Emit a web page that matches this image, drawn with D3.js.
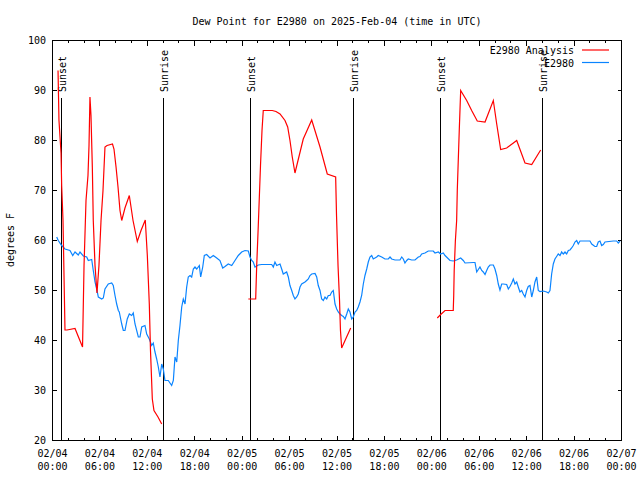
<!DOCTYPE html>
<html>
<head>
<meta charset="utf-8">
<script src="https://cdn.jsdelivr.net/npm/d3@7"></script>
<style>
  html, body { margin: 0; padding: 0; background: #fff; }
  svg { display: block; }
  text { font-family: "DejaVu Sans Mono", monospace; font-size: 10px; fill: #000; }
</style>
</head>
<body>
<svg id="chart" width="640" height="480"></svg>
<script>
// ---------- DATA (time = hours since 02/04 00:00 UTC) ----------
const title = "Dew Point for E2980 on 2025-Feb-04 (time in UTC)";
const yLabel = "degrees F";
const seriesNames = ["E2980 Analysis", "E2980"];
const seriesColors = ["#ff0000", "#0a84ff"];
const yTicks = [20, 30, 40, 50, 60, 70, 80, 90, 100];
const xTickHours = [0, 6, 12, 18, 24, 30, 36, 42, 48, 54, 60, 66, 72];
const xTickLabels = [
  ["02/04", "00:00"], ["02/04", "06:00"], ["02/04", "12:00"], ["02/04", "18:00"],
  ["02/05", "00:00"], ["02/05", "06:00"], ["02/05", "12:00"], ["02/05", "18:00"],
  ["02/06", "00:00"], ["02/06", "06:00"], ["02/06", "12:00"], ["02/06", "18:00"],
  ["02/07", "00:00"]
];
const sunEvents = [
  [1.11, "Sunset"], [14.02, "Sunrise"],
  [25.08, "Sunset"], [38.06, "Sunrise"],
  [49.12, "Sunset"], [61.98, "Sunrise"]
];

// Analysis (red) – three separate segments
const analysisDay1 = [
  [0.70,94],[0.82,84],[1.08,77.5],[1.16,71],[1.33,64],[1.58,42.1],[1.83,42.1],[2.85,42.4],
  [3.80,38.7],[3.99,55],[4.24,68],[4.49,73],[4.62,79],[4.74,88.7],[4.87,85],[5.04,74.7],
  [5.16,64],[5.38,55],[5.63,49.5],[5.88,55],[6.14,64],[6.39,70],[6.64,78.7],[6.90,79],
  [7.59,79.3],[7.78,78.3],[8.04,74.7],[8.29,70.7],[8.54,66],[8.76,64],[9.17,66.5],[9.72,69],
  [10.19,64],[10.73,59.8],[11.20,62],[11.74,64.1],[12.00,57],[12.25,47.3],[12.40,38],
  [12.63,28.3],[12.84,26],[13.35,24.7],[13.82,23.3]
];
const analysisDay2 = [
  [24.78,48.3],[25.71,48.3],[25.84,55],[26.04,63],[26.32,75],[26.51,82],[26.67,86],[27.81,86],
  [28.28,85.8],[28.79,85.3],[29.42,84],[29.76,82.7],[30.05,80],[30.34,76.7],[30.68,73.5],
  [31.73,80.3],[32.80,84.1],[33.85,78.7],[34.77,73.3],[35.83,72.7],[35.94,65],[36.13,55],
  [36.32,48],[36.44,42],[36.59,38.5],[37.73,42.5]
];
const analysisDay3 = [
  [48.69,44.5],[49.12,45.2],[49.67,46],[50.71,46],[50.77,49],[50.83,54],[50.98,60],[51.14,64],
  [51.22,70],[51.47,82],[51.65,90],[52.41,88],[53.04,86],[53.75,83.9],[54.73,83.7],[55.78,88],
  [56.21,83.3],[56.71,78.2],[57.47,78.5],[58.74,80],[59.79,75.5],[60.64,75.2],[61.77,78.1]
];

// Observations (blue)
const observed = [
  [0.53,60.7],[0.73,60],[1.16,59],[1.58,58.3],[2.21,58],[2.56,57],[2.85,57.7],[3.26,57.1],
  [3.48,57.7],[3.90,56.9],[4.33,56.7],[4.53,56],[4.96,56.2],[5.16,54],[5.38,51.7],[5.59,50.3],
  [5.80,48.7],[6.23,48.3],[6.43,48.5],[6.64,50.3],[7.06,51.3],[7.49,51.5],[7.69,51],[7.91,49],
  [8.12,47.3],[8.33,46],[8.45,45.7],[8.54,45],[8.76,43.3],[8.96,42],[9.17,42],[9.46,44.3],
  [9.72,45.3],[10.02,45],[10.22,45.5],[10.44,43.3],[10.86,40.7],[11.07,40.7],[11.29,42.7],
  [11.70,43],[11.92,41.3],[12.25,40.3],[12.55,39],[12.75,39.5],[12.97,37.7],[13.18,36.3],
  [13.39,34.7],[13.60,32.7],[13.82,35.3],[14.02,34.3],[14.23,32],[14.65,32],[15.08,31],
  [15.29,32],[15.41,34.7],[15.50,36.7],[15.72,35.7],[15.92,40],[16.13,43],[16.35,46.7],
  [16.55,48.3],[16.77,47.3],[16.98,50.7],[17.18,52.7],[17.40,53],[17.61,52.7],[17.82,54.3],
  [18.03,54.7],[18.25,54.3],[18.58,55],[18.75,52.7],[19.01,54.7],[19.21,57],[19.51,57.2],
  [19.93,56.5],[20.35,57],[20.78,56.5],[21.19,56],[21.54,54.5],[21.83,54.8],[22.24,55.3],
  [22.68,55],[23.09,56],[23.51,57],[23.94,57.7],[24.36,58],[24.78,57.9],[24.99,56.7],
  [25.21,56],[25.41,55.7],[25.62,54.7],[26.04,55.1],[26.47,55.2],[27.74,55.2],[27.94,54.7],
  [28.15,55.7],[28.37,55],[28.79,55.3],[29.00,54.3],[29.20,53.3],[29.63,53.7],[29.84,52.7],
  [30.05,51],[30.27,50],[30.47,49],[30.68,48.3],[30.90,48.7],[31.10,49.3],[31.32,50.7],
  [31.53,51.3],[31.95,51.7],[32.16,52],[32.37,52.3],[32.58,53],[32.80,53.3],[33.22,53.4],
  [33.43,52.7],[33.63,51],[33.85,50],[34.06,48.3],[34.27,48],[34.48,48.7],[34.70,48.3],
  [34.90,49],[35.11,49],[35.33,49.7],[35.53,50],[35.75,47.3],[35.96,46.3],[36.16,45.7],
  [36.38,45.3],[36.59,45],[36.80,44.8],[37.01,44.3],[37.23,45.3],[37.43,46.3],[37.64,45.7],
  [37.86,44.3],[38.06,44.7],[38.28,45.7],[38.49,46],[38.69,46.7],[38.91,47.7],[39.12,49],
  [39.33,51.3],[39.54,53],[39.76,54.3],[39.96,55.7],[40.17,56.7],[40.39,57],[40.59,56.3],
  [41.02,56.7],[41.22,57],[41.66,56.7],[42.07,56.3],[42.49,56.3],[42.71,56.7],[42.92,56.3],
  [43.34,56.1],[43.97,56.1],[44.19,56.7],[44.39,56.3],[44.60,55.5],[44.82,56],[45.02,56.3],
  [45.45,56.1],[45.87,56.1],[46.29,56.7],[46.50,56.8],[46.72,57.3],[47.13,57.5],[47.55,57.9],
  [48.18,57.9],[48.40,57.5],[48.82,57.7],[49.12,57.3],[49.45,57.5],[49.67,57],[50.30,56],
  [50.71,55.9],[51.14,56.1],[51.65,56.5],[51.98,56],[52.20,55.5],[53.25,55.6],[53.46,55.6],
  [53.68,53.7],[53.88,54.2],[54.09,54.7],[54.31,54],[54.51,53.7],[54.73,53.2],[54.94,54],
  [55.14,54.7],[55.36,55.1],[55.78,55.1],[55.99,54.3],[56.21,53],[56.41,51.3],[56.62,50.1],
  [56.84,51.3],[57.04,51.3],[57.47,51.2],[57.68,50.3],[57.89,50.8],[58.11,51.5],[58.31,52.3],
  [58.52,51.3],[58.74,51.7],[58.94,50.7],[59.15,49.7],[59.37,50],[59.57,49.3],[59.79,48.7],
  [60.00,50],[60.20,50.8],[60.42,51],[60.64,48.7],[60.84,50],[61.05,51.7],[61.27,52.7],
  [61.47,50],[61.69,49.8],[62.10,49.9],[62.53,49.7],[62.74,49.5],[62.95,50],[63.16,53.3],
  [63.37,55.3],[63.58,56.3],[63.79,56.8],[64.00,57.3],[64.22,57],[64.43,57.7],[64.63,57.3],
  [64.85,57.7],[65.06,57.3],[65.27,58],[65.48,58.1],[65.69,58.5],[65.90,59],[66.11,59.7],
  [66.33,60],[66.53,59.3],[66.75,59.9],[68.01,59.9],[68.23,59.3],[68.64,58.8],[68.86,58.8],
  [69.06,59.7],[69.28,59.9],[69.49,59],[69.70,59.2],[69.91,59.7],[70.96,59.9],[71.39,59.9],
  [71.59,59.5],[71.81,59.9]
];

// ---------- DRAW ----------
const svg = d3.select("#chart");
const L = 52.5, R = 621.5, T = 40.5, B = 440.5;
const x = d3.scaleLinear().domain([0, 72]).range([L, R]);
const y = d3.scaleLinear().domain([20, 100]).range([B, T]);

// Title
svg.append("text").attr("x", (L + R) / 2).attr("y", 25)
  .attr("text-anchor", "middle").text(title);

// Y label
svg.append("text").attr("transform", "translate(14,240) rotate(-90)")
  .attr("text-anchor", "middle").text(yLabel);

const axes = svg.append("g").attr("shape-rendering", "crispEdges")
  .attr("stroke", "#000").attr("stroke-width", 1);

// y ticks (left + right, inward)
yTicks.forEach(v => {
  axes.append("line").attr("x1", L).attr("x2", L + 4).attr("y1", y(v)).attr("y2", y(v));
  axes.append("line").attr("x1", R).attr("x2", R - 4).attr("y1", y(v)).attr("y2", y(v));
  svg.append("text").attr("x", 46).attr("y", y(v) + 3.5)
    .attr("text-anchor", "end").text(v);
});

// x ticks: minor every 2h, major every 6h (bottom + top)
d3.range(0, 73, 2).forEach(h => {
  const len = (h % 6 === 0) ? 5 : 2.5;
  axes.append("line").attr("x1", x(h)).attr("x2", x(h)).attr("y1", B).attr("y2", B - len);
  axes.append("line").attr("x1", x(h)).attr("x2", x(h)).attr("y1", T).attr("y2", T + len);
});
xTickHours.forEach((h, i) => {
  const t = svg.append("text").attr("text-anchor", "middle");
  t.append("tspan").attr("x", x(h)).attr("y", 457).text(xTickLabels[i][0]);
  t.append("tspan").attr("x", x(h)).attr("y", 470).text(xTickLabels[i][1]);
});

// Sunrise / sunset lines
sunEvents.forEach(([h, label]) => {
  axes.append("line").attr("x1", x(h)).attr("x2", x(h)).attr("y1", 98).attr("y2", B);
  svg.append("text")
    .attr("transform", `translate(${x(h)},92) rotate(-90)`)
    .attr("dy", 4.5)
    .attr("text-anchor", "start").text(label);
});

// Series
const line = d3.line().x(d => x(d[0])).y(d => y(d[1]));
svg.append("path").datum(observed).attr("d", line)
  .attr("fill", "none").attr("stroke", seriesColors[1]).attr("stroke-width", 1.2);
[analysisDay1, analysisDay2, analysisDay3].forEach(seg => {
  svg.append("path").datum(seg).attr("d", line)
    .attr("fill", "none").attr("stroke", seriesColors[0]).attr("stroke-width", 1.2);
});

// Border
axes.append("rect").attr("x", L).attr("y", T).attr("width", R - L).attr("height", B - T)
  .attr("fill", "none");

// Legend
const legendY = [50, 62.5];
seriesNames.forEach((name, i) => {
  svg.append("text").attr("x", 574).attr("y", legendY[i] + 4)
    .attr("text-anchor", "end").text(name);
  svg.append("line").attr("x1", 582).attr("x2", 609)
    .attr("y1", legendY[i]).attr("y2", legendY[i])
    .attr("stroke", seriesColors[i]).attr("stroke-width", 1.2);
});
</script>
</body>
</html>
